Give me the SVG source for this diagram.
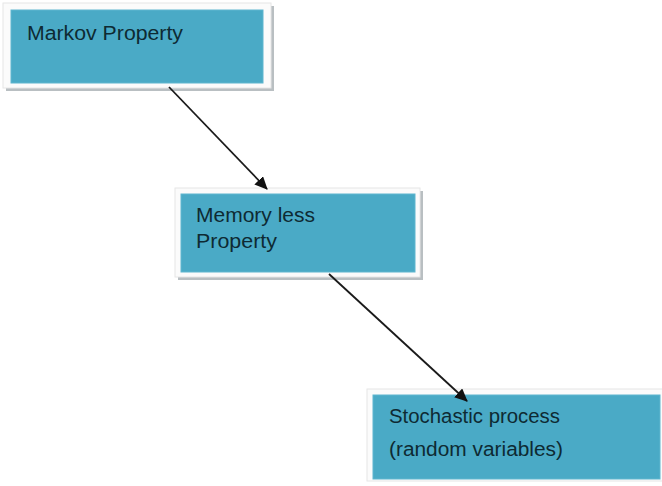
<svg xmlns="http://www.w3.org/2000/svg" width="662" height="486" viewBox="0 0 662 486">
<defs>
<style>
.frame{fill:#fbfbfb;stroke:#e6e6e6;stroke-width:1}
.shadow{fill:#b9bfc2}
.box{fill:#4aaac6;stroke:#5fb6cf;stroke-width:1}
.t{font-family:"Liberation Sans",Arial,sans-serif;font-size:20px;fill:#0e2a33}
.c{stroke:#1a1a1a;stroke-width:1.8;fill:none}
</style>
<marker id="ah" markerWidth="13" markerHeight="12" refX="12" refY="6" orient="auto" markerUnits="userSpaceOnUse" viewBox="0 0 13 12">
<path d="M0,0 L13,6 L0,12 Z" fill="#111"/>
</marker>
</defs>
<rect width="662" height="486" fill="#ffffff"/>
<g id="node-markov">
<rect class="shadow" x="6" y="6" width="268" height="85"/>
<rect class="frame" x="3" y="3" width="268" height="85"/>
<rect class="box" x="11" y="10" width="252" height="73"/>
<text class="t" x="27" y="40" textLength="156" lengthAdjust="spacingAndGlyphs">Markov Property</text>
</g>
<g id="node-memoryless">
<rect class="shadow" x="178" y="191" width="245" height="89"/>
<rect class="frame" x="175" y="188" width="245" height="89"/>
<rect class="box" x="181" y="194" width="234" height="78"/>
<text class="t" x="196" y="222" textLength="119" lengthAdjust="spacingAndGlyphs">Memory less</text>
<text class="t" x="196" y="248" textLength="81" lengthAdjust="spacingAndGlyphs">Property</text>
</g>
<g id="node-stochastic">
<rect class="frame" x="367" y="389" width="300" height="92"/>
<rect class="box" x="373" y="395" width="287" height="84"/>
<text class="t" x="389" y="423" textLength="171" lengthAdjust="spacingAndGlyphs">Stochastic process</text>
<text class="t" x="389" y="456" textLength="174" lengthAdjust="spacingAndGlyphs">(random variables)</text>
</g>
<g id="connectors">
<line class="c" x1="169" y1="87" x2="267" y2="189" marker-end="url(#ah)"/>
<line class="c" x1="329" y1="274" x2="467" y2="401" marker-end="url(#ah)"/>
</g>
</svg>
